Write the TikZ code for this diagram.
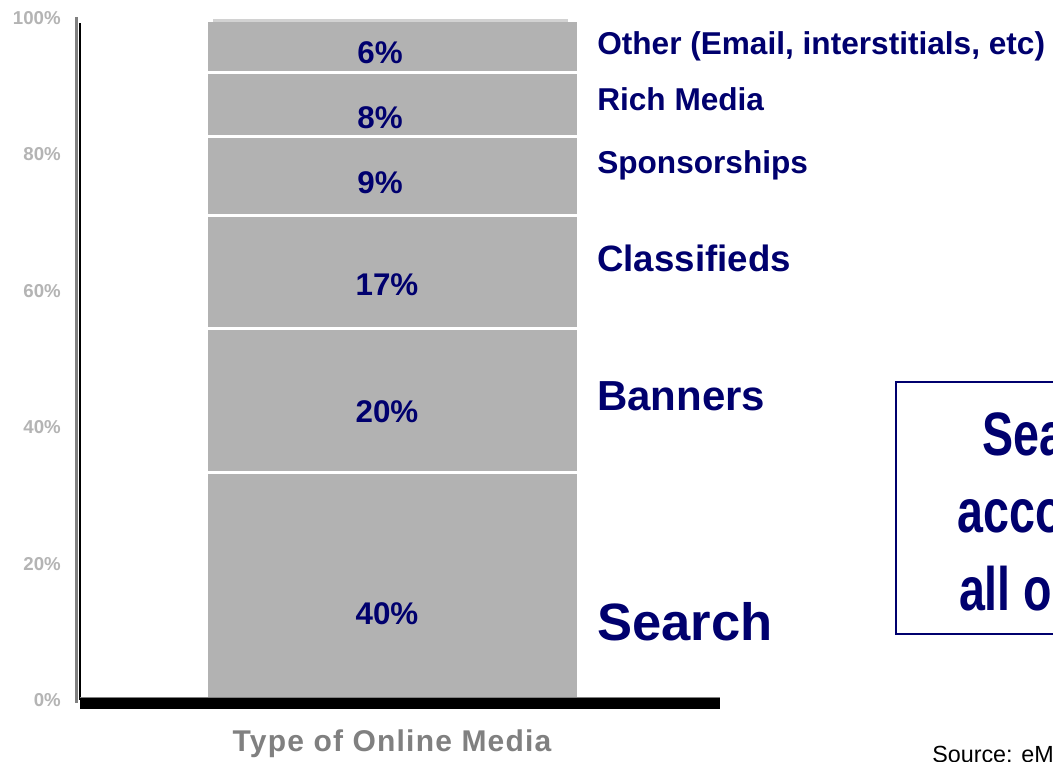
\documentclass[tikz,border=0pt]{standalone}
\usepackage{fontspec}
\setmainfont{Liberation Sans}
\newfontfamily\narrowfont[FakeStretch=0.76]{Liberation Sans}
\newfontfamily\spacedfont[LetterSpace=4]{Liberation Sans}
\definecolor{navy}{RGB}{0,0,110}
\definecolor{barfill}{RGB}{178,178,178}
\definecolor{barcap}{RGB}{210,210,210}
\definecolor{ticktext}{RGB}{180,180,180}
\definecolor{titletext}{RGB}{128,128,128}
\newcommand{\fsz}[2]{\fontsize{#1}{#2}\selectfont}
\tikzset{
  pct/.style={text=navy, inner sep=0pt, font=\bfseries\fsz{23.5pt}{26pt}},
  mediatag/.style={text=navy, inner sep=0pt, anchor=west, font=\bfseries\fsz{#1}{#1}},
  ticklabel/.style={text=ticktext, inner sep=0pt, anchor=east, font=\bfseries\fsz{14pt}{14pt}}
}
\begin{document}
\begin{tikzpicture}[x=0.75pt, y=-0.75pt]
  \clip (0,0) rectangle (1053,761);
  \fill[white] (0,0) rectangle (1053,761);

  % Axis tick labels
  \foreach \p in {0,...,5}{
    \pgfmathsetmacro{\ty}{700 - \p*136.4}
    \pgfmathtruncatemacro{\tv}{\p*20}
    \node[ticklabel] (tick\p) at (61, \ty) {\tv\%};
  }

  % Vertical axis (grey shadow and black line)
  \draw[line width=1.6pt, gray] (76.5, 17) -- (76.5, 703);
  \draw[line width=1.5pt, black] (80, 23) -- (80, 700);

  % Stacked bar
  \fill[barcap] (213, 19) rectangle (568, 23);
  \foreach \top/\bot in {22/70.5, 73.5/134.5, 137.5/213.5, 216.5/326.5, 329.5/470.5, 473.5/697}{
    \fill[barfill] (208, \top) rectangle (577, \bot);
  }

  % Horizontal axis
  \fill[black] (80, 697) rectangle (720, 709);
  \draw[gray, line width=0.6pt] (80, 697) -- (720, 697);

  % Shares inside the bar
  \node[pct] (pother) at (380, 53) {6\%};
  \node[pct] (prich) at (380, 118) {8\%};
  \node[pct] (pspons) at (380, 183) {9\%};
  \node[pct] (pclass) at (387, 285) {17\%};
  \node[pct] (pbann) at (387, 412) {20\%};
  \node[pct] (psearch) at (387, 614) {40\%};

  % Media types
  \node[mediatag=23.7pt] (other) at (597, 46) {Other (Email, interstitials, etc)};
  \node[mediatag=23.7pt] (rich) at (597, 99) {Rich Media};
  \node[mediatag=23.7pt] (spons) at (597, 165) {Sponsorships};
  \node[mediatag=27.5pt] (class) at (597, 258) {Classifieds};
  \node[mediatag=31.5pt] (bann) at (597, 396) {Banners};
  \node[mediatag=39.4pt] (search) at (597, 622) {Search};

  % Axis title
  \node[text=titletext, inner sep=0pt, font=\spacedfont\bfseries\fsz{22.5pt}{22.5pt}] (title) at (392, 744) {Type of Online Media};

  % Call-out box, cut at the right edge
  \draw[navy, line width=1.2pt] (896, 382) rectangle (1080, 634);
  \node[text=navy, inner sep=0pt, anchor=base, align=center, font=\narrowfont\bfseries\fsz{46pt}{58pt}] (callout) at (1060, 610) {Search\\accounts\\all online};

  % Source
  \node[inner sep=0pt, anchor=base west, font=\fsz{17.5pt}{17.5pt}] (source) at (932, 762) {Source: eMarketer};
\end{tikzpicture}
\end{document}
